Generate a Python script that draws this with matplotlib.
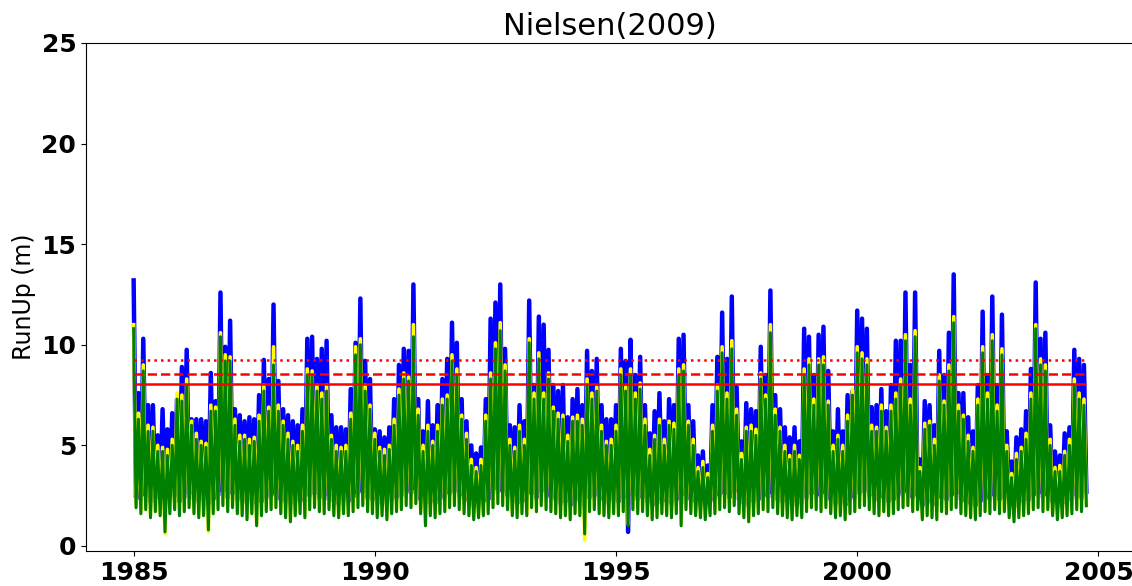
import numpy as np
import matplotlib
matplotlib.use("Agg")
import matplotlib.pyplot as plt

# ---- data (one peak and one trough per 0.1 year from 1985.0) ----
start_year = 1985.0
step_year = 0.05

blue_peaks = [13.2, 7.6, 10.3, 7.0, 7.0, 5.5, 6.8, 5.8, 6.6, 7.3,
              8.9, 9.75, 6.3, 6.3, 6.3, 6.2, 8.6, 7.2, 12.6, 9.9,
              11.2, 6.8, 6.5, 6.2, 6.4, 6.3, 7.5, 9.25, 8.3, 12.0,
              8.2, 6.8, 6.5, 6.2, 6.0, 6.8, 10.3, 10.4, 9.3, 9.8,
              10.2, 6.5, 5.9, 5.9, 5.8, 7.8, 10.1, 12.3, 9.2, 8.3,
              5.8, 5.7, 5.4, 5.9, 7.3, 9.0, 9.8, 9.7, 13.0, 7.3,
              5.7, 7.2, 6.0, 7.0, 8.3, 9.3, 11.1, 10.1, 7.3, 6.2,
              5.0, 4.6, 4.9, 7.3, 11.3, 12.1, 13.0, 9.8, 6.0, 5.9,
              7.0, 6.2, 12.2, 8.0, 11.4, 11.0, 9.75, 8.0, 7.7, 8.0,
              6.4, 7.3, 7.8, 7.0, 9.7, 8.7, 9.3, 7.0, 6.3, 6.3,
              7.0, 9.8, 9.2, 10.25, 8.5, 9.4, 7.0, 5.6, 6.7, 7.6,
              6.2, 7.3, 7.0, 10.3, 10.5, 7.0, 6.2, 4.5, 4.7, 4.0,
              7.0, 9.4, 11.6, 9.3, 12.4, 7.9, 5.2, 7.1, 6.8, 6.7,
              9.9, 8.5, 12.7, 7.5, 6.8, 5.9, 5.4, 5.9, 5.2, 10.8,
              10.4, 8.5, 10.5, 10.9, 8.7, 5.7, 6.8, 5.7, 7.5, 7.7,
              11.7, 11.3, 10.8, 6.9, 7.0, 7.8, 6.7, 8.0, 10.2, 10.2,
              12.6, 9.0, 12.6, 4.3, 7.2, 7.0, 6.0, 9.7, 8.5, 10.6,
              13.5, 7.6, 7.6, 6.4, 5.7, 8.0, 11.65, 8.5, 12.4, 8.0,
              11.5, 5.7, 4.2, 5.4, 5.8, 6.7, 8.8, 13.1, 10.3, 10.6,
              6.0, 4.7, 4.5, 5.6, 5.9, 9.75, 9.3, 9.0]

blue_troughs = [2.4, 2.3, 2.5, 2.2, 2.4, 2.3, 2.1, 2.3, 2.5, 2.2,
                2.4, 2.6, 2.3, 2.2, 2.3, 2.1, 2.3, 2.5, 2.7, 2.4,
                2.6, 2.3, 2.2, 2.1, 2.3, 2.1, 2.2, 2.4, 2.5, 2.6,
                2.3, 2.2, 2.1, 2.2, 2.3, 2.2, 2.5, 2.6, 2.4, 2.3,
                2.5, 2.2, 2.1, 2.3, 2.2, 2.4, 2.6, 2.7, 2.4, 2.3,
                2.1, 2.2, 2.1, 2.3, 2.4, 2.5, 2.7, 2.6, 2.8, 2.3,
                2.1, 2.2, 2.1, 2.3, 2.4, 2.6, 2.7, 2.5, 2.3, 2.2,
                2.0, 2.1, 2.2, 2.3, 2.6, 2.8, 2.7, 2.5, 2.2, 2.1,
                2.3, 2.2, 2.6, 2.4, 2.7, 2.5, 2.4, 2.3, 2.1, 2.2,
                2.0, 2.3, 2.2, 2.0, 2.4, 2.5, 2.3, 2.2, 2.1, 2.3,
                2.2, 2.4, 0.7, 2.5, 2.3, 2.4, 2.2, 2.0, 2.1, 2.3,
                2.2, 2.1, 2.3, 2.1, 2.5, 2.3, 2.2, 2.1, 2.0, 2.2,
                2.3, 2.5, 2.6, 2.4, 2.7, 2.3, 2.1, 2.0, 2.2, 2.3,
                2.5, 2.4, 2.6, 2.3, 2.2, 2.1, 2.0, 2.2, 2.1, 2.4,
                2.6, 2.5, 2.4, 2.6, 2.3, 2.1, 2.2, 2.0, 2.3, 2.4,
                2.6, 2.7, 2.5, 2.3, 2.2, 2.4, 2.2, 2.3, 2.5, 2.6,
                2.7, 2.4, 2.5, 2.0, 2.2, 2.1, 2.0, 2.4, 2.3, 2.5,
                2.6, 2.3, 2.2, 2.1, 2.0, 2.2, 2.4, 2.3, 2.5, 2.3,
                2.4, 2.1, 1.9, 2.1, 2.2, 2.3, 2.5, 2.6, 2.4, 2.5,
                2.2, 2.0, 2.1, 2.2, 2.3, 2.5, 2.4, 2.7]

yellow_peaks = [11.0, 6.6, 9.0, 6.0, 5.9, 5.0, 4.9, 4.8, 5.3, 7.6,
                7.5, 8.3, 6.2, 5.6, 5.2, 5.1, 7.0, 6.9, 10.6, 9.5,
                9.4, 6.3, 5.5, 5.5, 5.3, 5.4, 6.5, 8.0, 6.9, 9.9,
                7.0, 6.2, 5.6, 5.2, 5.0, 6.0, 8.8, 8.7, 8.0, 7.6,
                8.0, 5.5, 5.0, 4.9, 5.0, 6.6, 9.9, 10.3, 8.0, 7.0,
                5.6, 4.9, 4.8, 5.0, 6.3, 7.8, 8.6, 8.4, 11.0, 6.8,
                5.0, 6.0, 5.2, 6.0, 7.3, 7.5, 9.5, 8.8, 6.5, 5.6,
                4.3, 3.9, 4.3, 6.5, 8.6, 10.1, 11.1, 9.0, 5.3, 4.9,
                6.0, 5.3, 10.3, 7.6, 9.6, 7.6, 8.6, 6.9, 6.6, 6.5,
                5.5, 6.4, 6.5, 6.3, 8.3, 7.6, 7.9, 6.0, 5.2, 5.3,
                6.0, 8.8, 7.9, 8.8, 7.6, 8.1, 6.3, 4.8, 5.5, 6.3,
                5.3, 6.2, 6.1, 8.8, 9.0, 6.2, 5.3, 3.9, 4.2, 3.6,
                6.0, 8.0, 9.9, 7.6, 10.2, 6.8, 4.6, 5.9, 6.0, 5.8,
                8.6, 7.5, 11.0, 6.8, 5.9, 5.0, 4.5, 5.0, 4.5, 8.8,
                9.3, 7.3, 9.3, 9.4, 7.2, 5.0, 5.5, 5.0, 6.5, 7.8,
                9.9, 9.6, 9.3, 6.0, 5.9, 7.0, 5.9, 7.0, 7.6, 8.3,
                10.5, 7.3, 10.7, 3.9, 6.1, 6.2, 5.3, 8.5, 7.2, 9.0,
                11.4, 7.0, 6.5, 5.5, 4.9, 7.3, 9.9, 7.6, 10.5, 7.0,
                9.8, 5.0, 3.6, 4.6, 4.9, 5.6, 7.6, 11.0, 9.3, 9.0,
                5.3, 3.9, 4.0, 4.7, 5.3, 8.3, 7.6, 7.3]

yellow_troughs = [2.0, 1.7, 1.9, 1.5, 1.8, 1.6, 0.6, 1.7, 1.9, 1.6,
                  1.8, 2.0, 1.7, 1.5, 1.6, 0.7, 1.7, 1.9, 2.1, 1.8,
                  2.0, 1.7, 1.6, 1.4, 1.7, 1.1, 1.6, 1.8, 1.9, 2.0,
                  1.7, 1.5, 1.3, 1.6, 1.7, 1.5, 1.9, 2.0, 1.8, 1.7,
                  1.9, 1.6, 1.5, 1.7, 1.6, 1.8, 2.0, 2.1, 1.8, 1.7,
                  1.5, 1.6, 1.4, 1.7, 1.8, 1.9, 2.1, 2.0, 2.2, 1.7,
                  1.1, 1.6, 1.5, 1.7, 1.8, 2.0, 2.1, 1.9, 1.7, 1.6,
                  1.4, 1.5, 1.6, 1.7, 2.0, 2.2, 2.1, 1.9, 1.6, 1.5,
                  1.7, 1.6, 2.0, 1.8, 2.1, 1.9, 1.8, 1.7, 1.5, 1.6,
                  1.4, 1.7, 1.6, 0.3, 1.8, 1.9, 1.7, 1.6, 1.5, 1.7,
                  1.6, 1.8, 1.1, 1.9, 1.7, 1.8, 1.6, 1.4, 1.5, 1.7,
                  1.6, 1.5, 1.7, 1.1, 1.9, 1.7, 1.6, 1.5, 1.4, 1.6,
                  1.7, 1.9, 2.0, 1.8, 2.1, 1.7, 1.5, 1.3, 1.6, 1.7,
                  1.9, 1.8, 2.0, 1.7, 1.6, 1.5, 1.4, 1.6, 1.5, 1.8,
                  2.0, 1.9, 1.8, 2.0, 1.7, 1.5, 1.6, 1.4, 1.7, 1.8,
                  2.0, 2.1, 1.9, 1.7, 1.6, 1.8, 1.6, 1.7, 1.9, 2.0,
                  2.1, 1.8, 1.9, 1.4, 1.6, 1.5, 1.4, 1.8, 1.7, 1.9,
                  2.0, 1.7, 1.6, 1.5, 1.4, 1.6, 1.8, 1.7, 1.9, 1.7,
                  1.8, 1.5, 1.3, 1.5, 1.6, 1.7, 1.9, 2.0, 1.8, 1.9,
                  1.6, 1.4, 1.5, 1.6, 1.7, 1.9, 1.8, 2.1]

green_peaks = [10.8, 6.3, 8.7, 5.7, 5.7, 4.7, 4.7, 4.5, 5.0, 7.3,
               7.2, 8.0, 6.0, 5.3, 5.0, 4.9, 6.7, 6.7, 10.4, 9.2,
               9.2, 6.0, 5.2, 5.3, 5.0, 5.2, 6.2, 7.7, 6.7, 9.0,
               6.7, 6.0, 5.3, 5.0, 4.7, 5.7, 8.5, 8.5, 7.7, 7.3,
               7.7, 5.3, 4.7, 4.7, 4.7, 6.3, 9.5, 10.0, 7.7, 6.8,
               5.3, 4.7, 4.5, 4.8, 6.0, 7.5, 8.3, 8.2, 10.4, 6.5,
               4.7, 5.7, 5.0, 5.7, 7.0, 7.3, 9.2, 8.5, 6.3, 5.3,
               4.0, 3.7, 4.0, 6.2, 8.3, 9.8, 10.7, 8.7, 5.0, 4.7,
               5.7, 5.0, 10.1, 7.3, 9.3, 7.3, 8.3, 6.7, 6.3, 6.3,
               5.2, 6.2, 6.2, 6.0, 8.0, 7.3, 7.7, 5.7, 5.0, 5.0,
               5.7, 8.5, 7.7, 8.5, 7.3, 7.8, 6.0, 4.5, 5.3, 6.0,
               5.0, 6.0, 5.8, 8.5, 8.7, 6.0, 5.0, 3.7, 3.9, 3.4,
               5.7, 7.7, 9.6, 7.3, 9.8, 6.5, 4.3, 5.7, 5.7, 5.5,
               8.3, 7.3, 10.6, 6.5, 5.7, 4.7, 4.3, 4.7, 4.3, 8.5,
               9.0, 7.0, 9.0, 9.0, 7.0, 4.7, 5.3, 4.7, 6.2, 7.5,
               9.6, 9.3, 9.0, 5.7, 5.7, 6.7, 5.7, 6.7, 7.3, 8.0,
               10.2, 7.0, 10.4, 3.7, 5.8, 6.0, 5.0, 8.2, 7.0, 8.7,
               11.1, 6.7, 6.3, 5.2, 4.7, 7.0, 9.6, 7.3, 10.2, 6.7,
               9.5, 4.7, 3.4, 4.3, 4.7, 5.3, 7.3, 10.8, 9.0, 8.7,
               5.0, 3.7, 3.7, 4.5, 5.0, 8.0, 7.3, 7.0]

green_troughs = [1.9, 1.6, 1.8, 1.4, 1.7, 1.5, 0.7, 1.6, 1.8, 1.5,
                 1.7, 1.9, 1.6, 1.4, 1.5, 0.8, 1.6, 1.8, 2.0, 1.7,
                 1.9, 1.6, 1.5, 1.3, 1.6, 1.0, 1.5, 1.7, 1.8, 1.9,
                 1.6, 1.4, 1.2, 1.5, 1.6, 1.4, 1.8, 1.9, 1.7, 1.6,
                 1.8, 1.5, 1.4, 1.6, 1.5, 1.7, 1.9, 2.0, 1.7, 1.6,
                 1.4, 1.5, 1.3, 1.6, 1.7, 1.8, 2.0, 1.9, 2.1, 1.6,
                 1.0, 1.5, 1.4, 1.6, 1.7, 1.9, 2.0, 1.8, 1.6, 1.5,
                 1.3, 1.4, 1.5, 1.6, 1.9, 2.1, 2.0, 1.8, 1.5, 1.4,
                 1.6, 1.5, 1.9, 1.7, 2.0, 1.8, 1.7, 1.6, 1.4, 1.5,
                 1.3, 1.6, 1.5, 0.6, 1.7, 1.8, 1.6, 1.5, 1.4, 1.6,
                 1.5, 1.7, 1.0, 1.8, 1.6, 1.7, 1.5, 1.3, 1.4, 1.6,
                 1.5, 1.4, 1.6, 1.0, 1.8, 1.6, 1.5, 1.4, 1.3, 1.5,
                 1.6, 1.8, 1.9, 1.7, 2.0, 1.6, 1.4, 1.2, 1.5, 1.6,
                 1.8, 1.7, 1.9, 1.6, 1.5, 1.4, 1.3, 1.5, 1.4, 1.7,
                 1.9, 1.8, 1.7, 1.9, 1.6, 1.4, 1.5, 1.3, 1.6, 1.7,
                 1.9, 2.0, 1.8, 1.6, 1.5, 1.7, 1.5, 1.6, 1.8, 1.9,
                 2.0, 1.7, 1.8, 1.3, 1.5, 1.4, 1.3, 1.7, 1.6, 1.8,
                 1.9, 1.6, 1.5, 1.4, 1.3, 1.5, 1.7, 1.6, 1.8, 1.6,
                 1.7, 1.4, 1.2, 1.4, 1.5, 1.6, 1.8, 1.9, 1.7, 1.8,
                 1.5, 1.3, 1.4, 1.5, 1.6, 1.8, 1.7, 2.0]

thresholds = [8.05, 8.55, 9.25]
threshold_styles = ['-', '--', ':']

x_ticks = [1985, 1990, 1995, 2000, 2005]
y_ticks = [0, 5, 10, 15, 20, 25]
title = "Nielsen(2009)"
ylabel = "RunUp (m)"


def series(peaks, troughs):
    v = np.empty(2 * len(peaks))
    v[0::2] = peaks
    v[1::2] = troughs
    return v


blue = series(blue_peaks, blue_troughs)
yellow = series(yellow_peaks, yellow_troughs)
green = series(green_peaks, green_troughs)
t = start_year + step_year * np.arange(len(blue))

fig = plt.figure(figsize=(11.32, 5.86), dpi=100)
ax = fig.add_axes([86 / 1132, 35 / 586, 1048 / 1132, 508 / 586])

ax.plot(t, blue, color='blue', lw=3.2)
ax.plot(t, yellow, color='yellow', lw=2.6)
ax.plot(t, green, color='green', lw=2.2)
for thr, ls in zip(thresholds, threshold_styles):
    ax.hlines(thr, t[0], t[-1], colors='red', linestyles=ls, lw=1.8)

ax.set_ylim(-0.25, 25)
ax.set_xticks(x_ticks)
ax.set_yticks(y_ticks)
ax.tick_params(labelsize=18)
for lab in ax.get_xticklabels() + ax.get_yticklabels():
    lab.set_fontweight('bold')
ax.set_title(title, fontsize=22)
ax.set_ylabel(ylabel, fontsize=17)

fig.savefig("out.png", dpi=100)
